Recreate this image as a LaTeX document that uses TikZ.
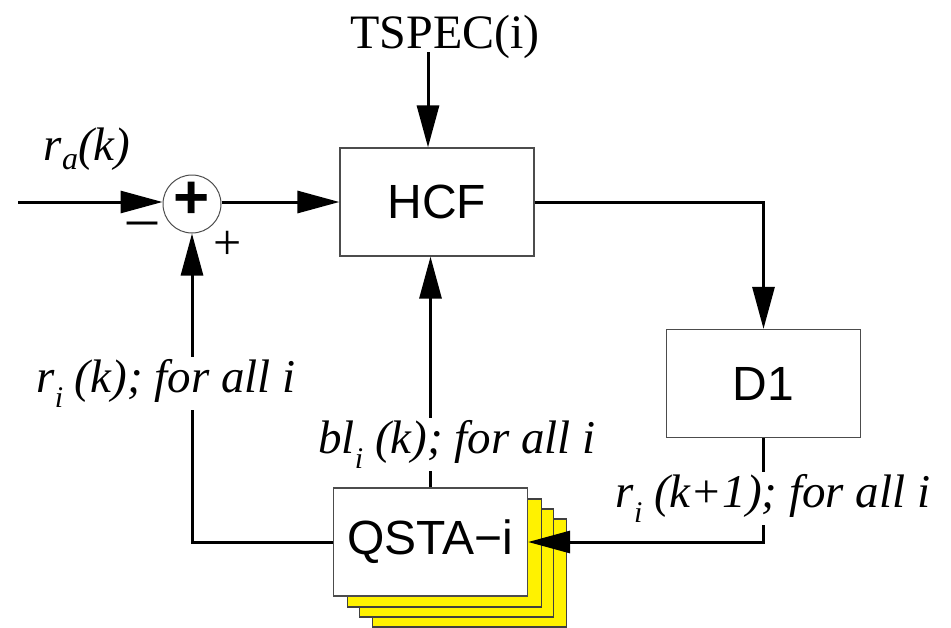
\documentclass[tikz,border=0pt]{standalone}
\usepackage{fontspec}
\setmainfont{Liberation Serif}
\setsansfont{Liberation Sans}
\usetikzlibrary{arrows.meta}
\newcommand\lowsub[1]{\raisebox{-0.33em}{\fontsize{30}{30}\selectfont #1}}
\newcommand\asub[1]{\raisebox{-0.2em}{\fontsize{32}{32}\selectfont #1}}
\begin{document}
\begin{tikzpicture}[x=1pt,y=-1pt,
  blk/.style={draw=black!70, line width=1.2pt, fill=white, minimum width=194pt, minimum height=108pt, inner sep=0pt, font=\sffamily\fontsize{48}{48}\selectfont},
  shadowbox/.style={draw=black!75, line width=1.2pt, fill=yellow, minimum width=194pt, minimum height=108pt, inner sep=0pt},
  conn/.style={line width=3pt},
  arr/.style={conn, -{Triangle[length=42pt,width=22pt]}},
  lbl/.style={font=\itshape\fontsize{47}{47}\selectfont, fill=white, inner sep=2pt},
  sign/.style={inner sep=0pt},
]
\useasboundingbox (0,0) rectangle (951,627);
% stacked QSTA boxes
\node[shadowbox] (s3) at (469.5,573) {};
\node[shadowbox] (s2) at (456.5,563) {};
\node[shadowbox] (s1) at (444.5,553) {};
\node[blk] (qsta) at (430.5,542) {QSTA−i};
% other blocks
\node[blk] (hcf) at (437,202) {HCF};
\node[blk] (d1) at (763.5,383.5) {D1};
\node[circle, draw=black!70, line width=1pt, minimum size=58pt, inner sep=0pt] (sum) at (192,204) {};
\node[font=\sffamily\bfseries\fontsize{62}{62}\selectfont, inner sep=0pt] (plus) at (192,200) {+};
% inputs
\node[font=\fontsize{48}{48}\selectfont, anchor=base, inner sep=0pt] (tspec) at (445,48) {TSPEC(i)};
\coordinate (tin) at (428,52);
\coordinate (in) at (18,202);
% connectors
\draw[arr] (tin) -- (tin |- hcf.north);
\draw[arr] (in) -- (in -| sum.west);
\draw[arr] (sum.east |- in) -- (in -| hcf.west);
\draw[arr] (hcf.east) -| (d1.north);
\draw[arr] (d1.south) |- (qsta.east);
\draw[arr] (qsta.west) -| (sum.south);
\draw[arr] (qsta.north) -- (qsta.north |- hcf.south);
% labels
\node[font=\itshape\fontsize{47}{47}\selectfont, anchor=base, inner sep=0pt] (ra) at (87,160) {r\asub{a}(k)};
\node[sign, font=\fontsize{60}{60}\selectfont] (minus) at (142,230) {–};
\node[sign, font=\fontsize{50}{50}\selectfont] (plussign) at (228,245) {+};
\node[lbl, anchor=base] (lri) at (166,392) {r\lowsub{i} (k); for all i};
\node[lbl, anchor=base] (lbl) at (457,453) {bl\lowsub{i} (k); for all i};
\node[lbl, anchor=base] (lrk) at (773,507) {r\lowsub{i} (k+1); for all i};
\end{tikzpicture}
\end{document}
